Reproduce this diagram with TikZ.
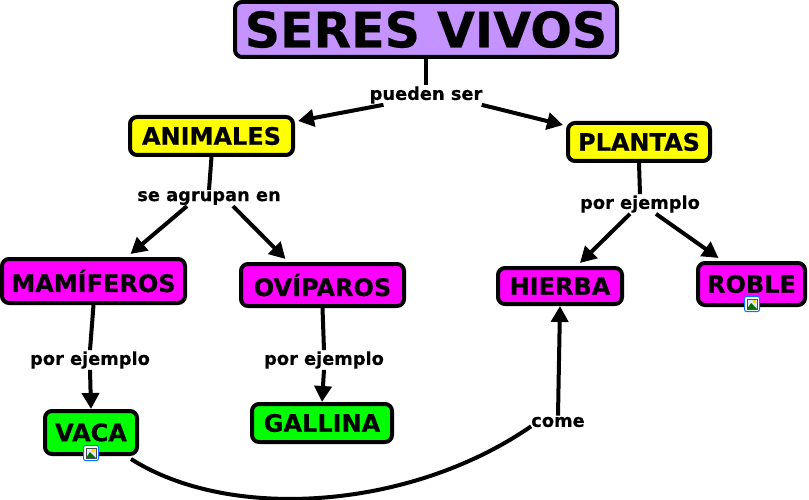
\documentclass[tikz,border=0pt]{standalone}
\usepackage{fontspec}
\setmainfont{DejaVu Sans}[BoldFeatures={FakeBold=0.4}]
\usetikzlibrary{calc,arrows.meta}

\definecolor{lila}{HTML}{C593FF}
\definecolor{magenta}{HTML}{FF00FF}
\definecolor{verde}{HTML}{00FF00}
\definecolor{amarillo}{HTML}{FFFF00}

\tikzset{
  concept/.style={draw=black,line width=4pt,rounded corners=7pt,font=\bfseries\fontsize{24}{24}\selectfont,
    inner sep=0pt,anchor=center},
  enlace/.style={font=\bfseries\fontsize{17.8}{17.8}\selectfont,inner sep=1pt,fill=white},
  conn/.style={line width=4pt,black},
  flecha/.style={conn,-{Triangle[length=16pt,width=17pt]}},
  imgicon/.pic={
    \draw[draw=blue!55!cyan,fill=white,line width=1pt,rounded corners=2pt] (-7.5,-7.5) rectangle (7.5,7.5);
    \fill[blue!10] (-5,-5) rectangle (5,5);
    \fill[yellow!80!orange] (2.5,-2.5) circle (2);
    \fill[green!45!black] (-5,5) -- (-1,-1) -- (5,5) -- cycle;
    \draw[black!70,line width=.7pt] (-5,-5) rectangle (5,5);
  }
}

\begin{document}
\begin{tikzpicture}[x=1pt,y=-1pt]
  \useasboundingbox (0,0) rectangle (809,500);

  % concepts
  \node[concept,fill=lila,minimum width=382pt,minimum height=55pt,font=\bfseries\fontsize{49}{49}\selectfont] (seres) at (426,29.5) {SERES VIVOS};
  \node[concept,fill=amarillo,minimum width=163pt,minimum height=38pt] (animales) at (211.5,136) {ANIMALES};
  \node[concept,fill=amarillo,minimum width=142pt,minimum height=38pt] (plantas) at (639,142) {PLANTAS};
  \node[concept,fill=magenta,minimum width=183pt,minimum height=44pt] (mamiferos) at (93.5,281) {MAMÍFEROS};
  \node[concept,fill=magenta,minimum width=163pt,minimum height=42pt] (oviparos) at (322.5,285) {OVÍPAROS};
  \node[concept,fill=magenta,minimum width=124pt,minimum height=36pt] (hierba) at (560,286) {HIERBA};
  \node[concept,fill=magenta,minimum width=107pt,minimum height=42pt] (roble) at (751.5,284) {ROBLE};
  \node[concept,fill=verde,minimum width=92pt,minimum height=43pt] (vaca) at (91,432.5) {VACA};
  \node[concept,fill=verde,minimum width=140pt,minimum height=38pt] (gallina) at (322,423) {GALLINA};

  % link phrases
  \node[enlace] (pueden) at (426,95) {pueden ser};
  \node[enlace] (agrupan) at (209,198) {se agrupan en};
  \node[enlace] (ejplantas) at (640,204) {por ejemplo};
  \node[enlace] (ejmam) at (90,360) {por ejemplo};
  \node[enlace] (ejovi) at (324,360) {por ejemplo};
  \node[enlace] (come) at (558,422) {come};

  % image marks under two of the concepts
  \pic at (91,453) {imgicon};
  \pic at (752,304) {imgicon};

  % top of the map
  \draw[conn] (seres.south) -- (pueden.north);
  \draw[flecha] (pueden.193) -- ($(animales.north east)+(3,6)$);
  \draw[flecha] (pueden.-10) -- ($(plantas.north west)+(-3,4)$);

  % animals
  \draw[conn] (animales.south) -- (agrupan.north);
  \draw[flecha] ($(agrupan.south)+(-22,0)$) -- ($(mamiferos.north)+(37,-3)$);
  \draw[flecha] ($(agrupan.south)+(24,0)$) -- ($(oviparos.north)+(-37,-3)$);
  \draw[conn] (mamiferos.south) -- (ejmam.north);
  \draw[flecha] (ejmam.south) -- (vaca.north);
  \draw[conn] (oviparos.south) -- (ejovi.north);
  \draw[flecha] (ejovi.south) -- (gallina.north);

  % plants
  \draw[conn] (plantas.south) -- (ejplantas.north);
  \draw[flecha] ($(ejplantas.south)+(-10,0)$) -- ($(hierba.north)+(20,-3)$);
  \draw[flecha] ($(ejplantas.south)+(16,0)$) -- ($(roble.north)+(-33,-3)$);

  % vaca come hierba
  \draw[conn] ($(vaca.south east)+(-8,3)$) .. controls (230,522) and (410,510) .. ($(come.south west)+(1,-2)$);
  \draw[flecha] (come.north) -- (hierba.south);
\end{tikzpicture}
\end{document}
